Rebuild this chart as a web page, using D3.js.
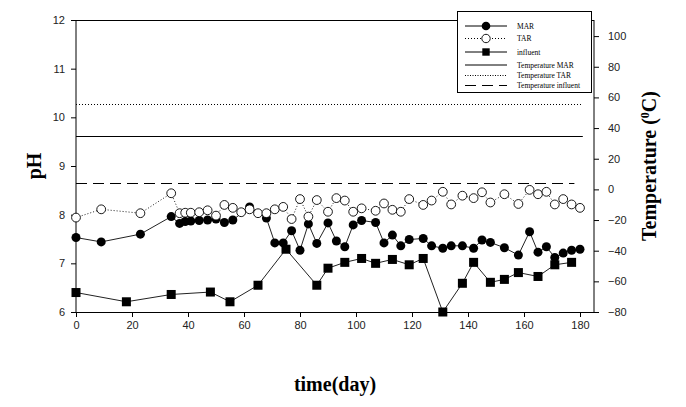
<!DOCTYPE html>
<html><head><meta charset="utf-8">
<script src="https://cdn.jsdelivr.net/npm/d3@7"></script>
<style>
body{margin:0;background:#fff;}
svg{display:block;}
.tick text{font-family:Arial,"Liberation Sans",sans-serif;font-size:11px;fill:#222;}
</style></head>
<body>
<svg id="c" width="686" height="407"></svg>
<script>
// ---- data ----
const marDays = [0,9,23,34,37,39,41,44,47,50,53,56,62,68,71,74,77,80,83,86,90,93,96,99,102,107,110,113,116,119,124,127,131,134,138,142,145,148,153,158,162,165,168,171,174,177,180];
const marPH   = [7.53,7.44,7.60,7.96,7.82,7.86,7.87,7.88,7.89,7.91,7.84,7.89,8.16,7.93,7.42,7.42,7.67,7.27,7.81,7.41,7.83,7.46,7.34,7.79,7.88,7.84,7.42,7.58,7.36,7.49,7.51,7.36,7.31,7.36,7.36,7.31,7.48,7.43,7.32,7.17,7.65,7.23,7.34,7.12,7.21,7.27,7.29];
const tarDays = [0,9,23,34,37,39,41,44,47,50,53,56,59,62,65,68,71,74,77,80,83,86,90,93,96,99,102,107,110,113,116,119,124,127,131,134,138,142,145,148,153,158,162,165,168,171,174,177,180];
const tarPH   = [7.94,8.11,8.03,8.44,8.03,8.04,8.04,8.05,8.09,7.98,8.20,8.14,8.05,8.11,8.03,8.03,8.11,8.16,7.91,8.32,7.96,8.30,8.06,8.34,8.29,8.06,8.13,8.08,8.23,8.10,8.06,8.32,8.20,8.29,8.47,8.21,8.39,8.34,8.46,8.25,8.42,8.22,8.51,8.42,8.47,8.21,8.32,8.21,8.14];
const infDays = [0,18,34,48,55,65,75,86,90,96,102,107,113,119,124,131,138,142,148,153,158,165,171,177];
const infPH   = [6.40,6.21,6.36,6.41,6.21,6.55,7.29,6.55,6.90,7.02,7.10,7.00,7.08,6.97,7.10,6.00,6.59,7.02,6.61,6.67,6.81,6.73,6.97,7.02];
const tempNames = ["Temperature MAR","Temperature TAR","Temperature influent"];
const tempValues = [35, 55.5, 4];
const tempSpans = [[0,181],[0,181],[0,178]];
const xTicks = [0,20,40,60,80,100,120,140,160,180];
const yLeftTicks = [6,7,8,9,10,11,12];
const yRightTicks = [-80,-60,-40,-20,0,20,40,60,80,100];
const legendNames = ["MAR","TAR","influent","Temperature MAR","Temperature TAR","Temperature influent"];

// ---- layout ----
const L = 76, R = 594, T = 20, B = 312;
const svg = d3.select("#c");
const x = d3.scaleLinear().domain([0,185]).range([L,R]);
const yL = d3.scaleLinear().domain([6,12]).range([B,T]);
const yR = d3.scaleLinear().domain([-80,110.5]).range([B,T]);
const fmt = d3.format("d");

// frame top
svg.append("line").attr("x1",L).attr("x2",R).attr("y1",T+0.5).attr("y2",T+0.5).attr("stroke","#000");

// axes
const ax = svg.append("g").attr("transform",`translate(0,${B})`)
  .call(d3.axisBottom(x).tickValues(xTicks).tickFormat(fmt).tickSize(5).tickSizeOuter(0).tickPadding(4));
const ayl = svg.append("g").attr("transform",`translate(${L},0)`)
  .call(d3.axisLeft(yL).tickValues(yLeftTicks).tickFormat(fmt).tickSize(5).tickSizeOuter(0).tickPadding(6));
const ayr = svg.append("g").attr("transform",`translate(${R},0)`)
  .call(d3.axisRight(yR).tickValues(yRightTicks).tickFormat(fmt).tickSize(5).tickSizeOuter(0).tickPadding(9));
svg.selectAll(".domain").attr("stroke","#000");
svg.selectAll(".tick line").attr("stroke","#000");
ayr.select(".domain").attr("d",`M0,${T}V${B}`);
ayl.select(".domain").attr("d",`M0,${T}V${B}`);

// temperature lines
const dashes = [null,"1,2","11,6"];
tempValues.forEach((v,i)=>{
  svg.append("line")
    .attr("x1",x(tempSpans[i][0])).attr("x2",x(tempSpans[i][1]))
    .attr("y1",Math.round(yR(v))+0.5).attr("y2",Math.round(yR(v))+0.5)
    .attr("stroke","#000").attr("stroke-width",1)
    .attr("stroke-dasharray",dashes[i]);
});

const line = d3.line();
function series(days, vals, dash){
  const pts = days.map((d,i)=>[x(d), yL(vals[i])]);
  svg.append("path").attr("d",line(pts)).attr("fill","none")
    .attr("stroke","#222").attr("stroke-width",1).attr("stroke-dasharray",dash);
  return pts;
}
const infPts = series(infDays, infPH, null);
const marPts = series(marDays, marPH, null);
const tarPts = series(tarDays, tarPH, "1,2");

const S = 9;
svg.append("g").selectAll("rect").data(infPts).join("rect")
  .attr("x",d=>d[0]-S/2).attr("y",d=>d[1]-S/2).attr("width",S).attr("height",S).attr("fill","#000");
svg.append("g").selectAll("circle").data(marPts).join("circle")
  .attr("cx",d=>d[0]).attr("cy",d=>d[1]).attr("r",4.5).attr("fill","#000");
svg.append("g").selectAll("circle").data(tarPts).join("circle")
  .attr("cx",d=>d[0]).attr("cy",d=>d[1]).attr("r",4.4).attr("fill","#fff").attr("stroke","#000").attr("stroke-width",0.9);

// legend
const lg = svg.append("g");
lg.append("rect").attr("x",457.5).attr("y",11.5).attr("width",134).attr("height",81)
  .attr("fill","#fff").attr("stroke","#000");
const rowsY = [26,38.5,52,65,75.5,85.5];
const lx1 = 465, lx2 = 507, lmx = 486;
const lDash = [null,"1,2",null,null,"1,1.5","11,6"];
legendNames.forEach((n,i)=>{
  const y = rowsY[i];
  lg.append("line").attr("x1",lx1).attr("x2",lx2).attr("y1",y).attr("y2",y)
    .attr("stroke","#000").attr("stroke-dasharray",lDash[i]);
  if(i===0) lg.append("circle").attr("cx",lmx).attr("cy",y).attr("r",4.3).attr("fill","#000");
  if(i===1) lg.append("circle").attr("cx",lmx).attr("cy",y).attr("r",4.2).attr("fill","#fff").attr("stroke","#000").attr("stroke-width",0.9);
  if(i===2) lg.append("rect").attr("x",lmx-3.7).attr("y",y-3.7).attr("width",7.4).attr("height",7.4).attr("fill","#000");
  lg.append("text").attr("x",517).attr("y",y+2.5).text(n)
    .attr("font-family","'Times New Roman','Liberation Serif',serif").attr("font-size",7.5).attr("fill","#000");
});

// axis titles
const serif = "'Times New Roman','Liberation Serif',serif";
svg.append("text").attr("transform","translate(41,166) rotate(-90)").attr("text-anchor","middle")
  .attr("font-family",serif).attr("font-weight","bold").attr("font-size",20).text("pH");
const tt = svg.append("text").attr("transform","translate(656,166) rotate(-90)").attr("text-anchor","middle")
  .attr("font-family",serif).attr("font-weight","bold").attr("font-size",20);
tt.append("tspan").text("Temperature (");
tt.append("tspan").attr("baseline-shift","super").attr("font-size",12).text("0");
tt.append("tspan").text("C)");
svg.append("text").attr("x",335).attr("y",391).attr("text-anchor","middle")
  .attr("font-family",serif).attr("font-weight","bold").attr("font-size",20).text("time(day)");
</script>
</body></html>
